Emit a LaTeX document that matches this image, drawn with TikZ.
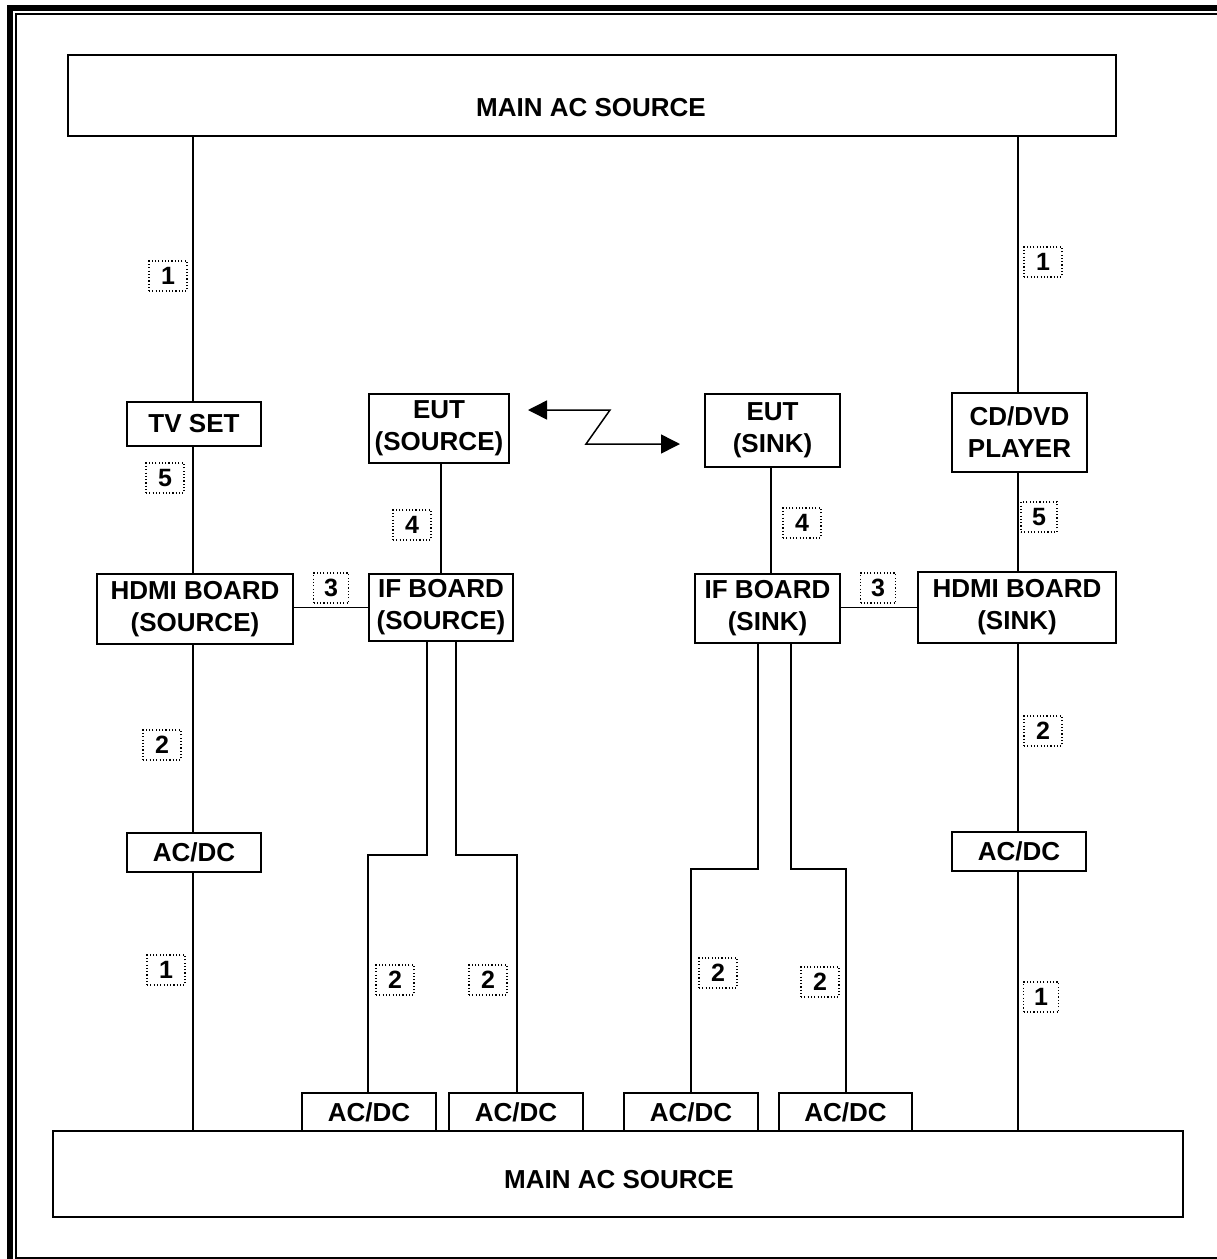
\documentclass[tikz,border=0pt]{standalone}
\usepackage{fontspec}
\setmainfont{Liberation Sans}
\usetikzlibrary{arrows.meta,calc}
\begin{document}
\begin{tikzpicture}[x=1pt,y=-1pt,
  box/.style={draw,line width=1.8pt,inner sep=0pt,align=center,
    font=\fontsize{26}{32}\selectfont\bfseries},
  txt/.style={inner sep=0pt,font=\fontsize{26}{32}\selectfont\bfseries},
  lab/.style={draw,line width=1.1pt,dash pattern=on 1.1pt off 2.2pt,inner sep=0pt,
    minimum width=38pt,minimum height=30pt,font=\fontsize{25}{28}\selectfont\bfseries},
  wire/.style={line width=1.5pt},
  zz/.style={line width=1.5pt,{Triangle[length=19pt,width=19pt]}-{Triangle[length=19pt,width=19pt]}}]
\useasboundingbox (0,0) rectangle (1217,1259);
% frame
\fill (7,5) rectangle (1217,11);
\fill (7,5) rectangle (13,1259);
\fill (15,13) rectangle (1217,15);
\fill (15,13) rectangle (17,1258.5);
\fill (15,1256.5) rectangle (1217,1258.5);
% main boxes
\node[box,minimum width=1048pt,minimum height=81pt] (topmain) at (592,95.5) {};
\node[txt] (toptxt) at (591,108) {MAIN AC SOURCE};
\node[box,minimum width=1130pt,minimum height=86pt] (botmain) at (618,1174) {};
\node[txt] (bottxt) at (619,1180) {MAIN AC SOURCE};
% left column
\node[box,minimum width=134pt,minimum height=44pt] (tv) at (194,424) {TV SET};
\node[box,minimum width=196pt,minimum height=70pt] (hdmisrc) at (195,609) {HDMI BOARD\\(SOURCE)};
\node[box,minimum width=134pt,minimum height=39pt] (acdcL) at (194,852.5) {AC/DC};
% source EUT
\node[box,minimum width=140pt,minimum height=69pt] (eutsrc) at (439,428.5) {EUT\\(SOURCE)};
\node[box,minimum width=144pt,minimum height=67pt] (ifsrc) at (441,607.5) {IF BOARD\\(SOURCE)};
\node[box,minimum width=134pt,minimum height=38pt] (a1) at (369,1112) {AC/DC};
\node[box,minimum width=134pt,minimum height=38pt] (a2) at (516,1112) {AC/DC};
% sink EUT
\node[box,minimum width=135pt,minimum height=73pt] (eutsink) at (772.5,430.5) {EUT\\(SINK)};
\node[box,minimum width=145pt,minimum height=69pt] (ifsink) at (767.5,608.5) {IF BOARD\\(SINK)};
\node[box,minimum width=134pt,minimum height=38pt] (a3) at (691,1112) {AC/DC};
\node[box,minimum width=133pt,minimum height=38pt] (a4) at (845.5,1112) {AC/DC};
% right column
\node[box,minimum width=135pt,minimum height=79pt] (cd) at (1019.5,432.5) {CD/DVD\\PLAYER};
\node[box,minimum width=198pt,minimum height=71pt] (hdmisink) at (1017,607.5) {HDMI BOARD\\(SINK)};
\node[box,minimum width=134pt,minimum height=39pt] (acdcR) at (1019,851.5) {AC/DC};
% left column wires
\coordinate (lx) at (193,0);
\draw[wire] (lx |- topmain.south) -- (lx |- tv.north);
\draw[wire] (lx |- tv.south) -- (lx |- hdmisrc.north);
\draw[wire] (lx |- hdmisrc.south) -- (lx |- acdcL.north);
\draw[wire] (lx |- acdcL.south) -- (lx |- botmain.north);
% right column wires
\coordinate (rx) at (1018,0);
\draw[wire] (rx |- topmain.south) -- (rx |- cd.north);
\draw[wire] (rx |- cd.south) -- (rx |- hdmisink.north);
\draw[wire] (rx |- hdmisink.south) -- (rx |- acdcR.north);
\draw[wire] (rx |- acdcR.south) -- (rx |- botmain.north);
% horizontal links
\draw[wire] (hdmisrc.east |- 0,607.5) -- (ifsrc.west |- 0,607.5);
\draw[wire] (ifsink.east |- 0,607.5) -- (hdmisink.west |- 0,607.5);
% EUT to IF
\coordinate (sx) at (441,0);
\draw[wire] (sx |- eutsrc.south) -- (sx |- ifsrc.north);
\coordinate (kx) at (771,0);
\draw[wire] (kx |- eutsink.south) -- (kx |- ifsink.north);
% source pair
\coordinate (p1) at (427,0);
\coordinate (p2) at (456,0);
\draw[wire] (p1 |- ifsrc.south) -- (p1 |- 0,855) -| ([xshift=-1pt]a1.north);
\draw[wire] (p2 |- ifsrc.south) -- (p2 |- 0,855) -| ([xshift=1pt]a2.north);
% sink pair
\coordinate (q1) at (758,0);
\coordinate (q2) at (791,0);
\draw[wire] (q1 |- ifsink.south) -- (q1 |- 0,869) -| (a3.north);
\draw[wire] (q2 |- ifsink.south) -- (q2 |- 0,869) -| ([xshift=0.5pt]a4.north);
% wireless link
\coordinate (z1) at (528,410);
\coordinate (z2) at (610,410);
\coordinate (z3) at (586,444);
\coordinate (z4) at (680,444);
\draw[zz] (z1) -- (z2) -- (z3) -- (z4);
% labels
\node[lab] (l1a) at (168,276) {1};
\node[lab] (l5a) at (165,478) {5};
\node[lab] (l2a) at (162,745) {2};
\node[lab] (l1b) at (166,970) {1};
\node[lab,minimum width=35pt] (l3a) at (331,588) {3};
\node[lab] (l4a) at (412,525) {4};
\node[lab] (l2c) at (395,980) {2};
\node[lab] (l2d) at (488,980) {2};
\node[lab] (l4b) at (802,523) {4};
\node[lab,minimum width=35pt] (l3b) at (878,588) {3};
\node[lab] (l2e) at (718,973) {2};
\node[lab] (l2f) at (820,982) {2};
\node[lab] (l1c) at (1043,262) {1};
\node[lab,minimum width=36pt] (l5b) at (1039,517) {5};
\node[lab] (l2g) at (1043,731) {2};
\node[lab,minimum width=35pt] (l1d) at (1041,997) {1};
\end{tikzpicture}
\end{document}
